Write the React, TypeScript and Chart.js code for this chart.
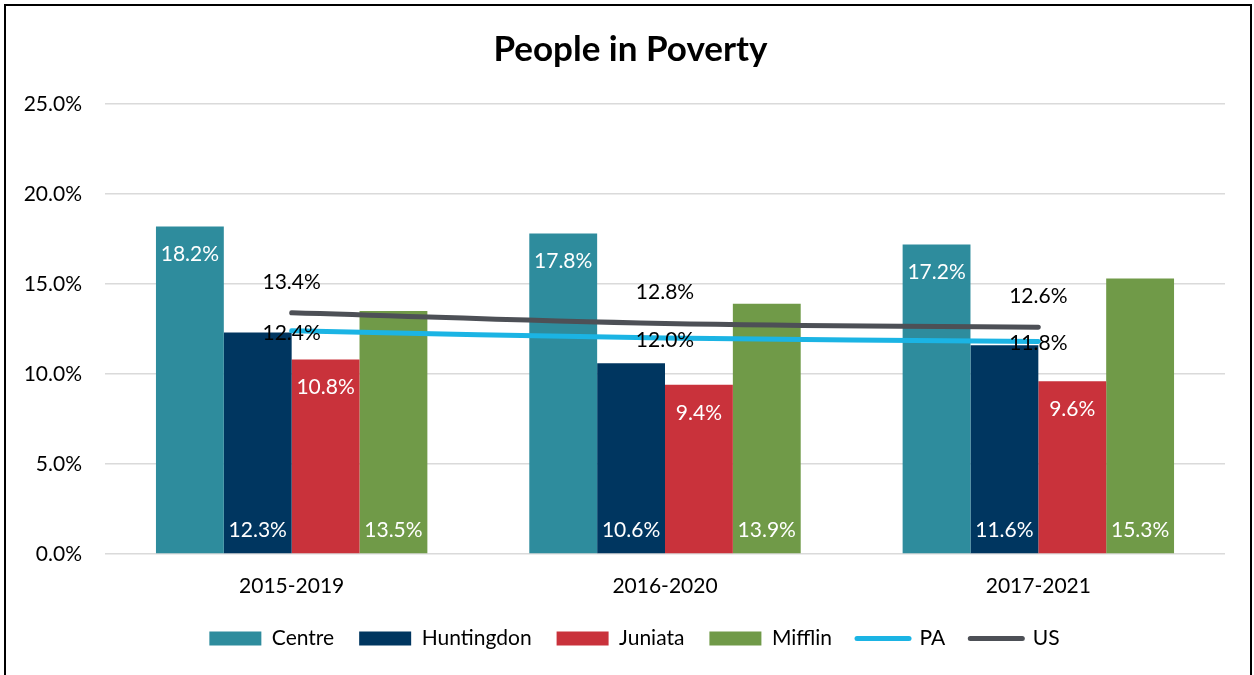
import React, { useEffect, useRef } from "react";
import { Chart, registerables } from "chart.js";

Chart.register(...registerables);

const categories = ["2015-2019", "2016-2020", "2017-2021"];
const centre = [18.2, 17.8, 17.2];
const huntingdon = [12.3, 10.6, 11.6];
const juniata = [10.8, 9.4, 9.6];
const mifflin = [13.5, 13.9, 15.3];
const pa = [12.4, 12.0, 11.8];
const us = [13.4, 12.8, 12.6];
const yTicks = [0, 5, 10, 15, 20, 25];

const FONT = "Lato, 'Open Sans', sans-serif";

const COLORS = {
  centre: "#2E8C9D",
  huntingdon: "#003660",
  juniata: "#C9323B",
  mifflin: "#709A48",
  pa: "#1BB4E4",
  us: "#4D5056",
};

// label placement per dataset index
const labelModes = ["top", "base", "top", "base", "center", "above"];

const labelPlugin = {
  id: "valueLabels",
  afterDatasetsDraw(chart: any) {
    const ctx = chart.ctx;
    ctx.save();
    ctx.font = `21px ${FONT}`;
    ctx.textAlign = "center";
    ctx.textBaseline = "middle";
    chart.data.datasets.forEach((ds: any, i: number) => {
      const meta = chart.getDatasetMeta(i);
      const mode = labelModes[i];
      meta.data.forEach((el: any, j: number) => {
        const v = ds.data[j];
        const p = el.getProps(["x", "y", "base"], true);
        const text = v.toFixed(1) + "%";
        let ty = p.y;
        if (mode === "top") {
          ctx.fillStyle = "#ffffff";
          ty = p.y + 28;
        } else if (mode === "base") {
          ctx.fillStyle = "#ffffff";
          ty = p.base - 23;
        } else if (mode === "above") {
          ctx.fillStyle = "#000000";
          ty = p.y - 31;
        } else {
          ctx.fillStyle = "#000000";
          ty = p.y + 2;
        }
        ctx.fillText(text, p.x, ty);
      });
    });
    ctx.restore();
  },
};

// centre title and legend on the whole frame rather than the chart box
const shiftPlugin = {
  id: "shiftBlocks",
  afterLayout(chart: any) {
    if (chart.legend) chart.legend.left += 44;
    if (chart.titleBlock) chart.titleBlock.left += 36;
  },
};

export default function App() {
  const ref = useRef<HTMLCanvasElement | null>(null);

  useEffect(() => {
    if (!ref.current) return;
    const barDs = (label: string, data: number[], color: string) => ({
      type: "bar" as const,
      label,
      data,
      backgroundColor: color,
      borderWidth: 0,
      order: 1,
      categoryPercentage: 0.727,
      barPercentage: 1.0,
    });
    const lineDs = (label: string, data: number[], color: string) => ({
      type: "line" as const,
      label,
      data,
      borderColor: color,
      backgroundColor: color,
      borderWidth: 5,
      borderCapStyle: "round" as const,
      pointRadius: 0,
      tension: 0.4,
      fill: false,
      order: 0,
    });
    const chart = new Chart(ref.current, {
      type: "bar",
      data: {
        labels: categories,
        datasets: [
          barDs("Centre", centre, COLORS.centre),
          barDs("Huntingdon", huntingdon, COLORS.huntingdon),
          barDs("Juniata", juniata, COLORS.juniata),
          barDs("Mifflin", mifflin, COLORS.mifflin),
          lineDs("PA", pa, COLORS.pa),
          lineDs("US", us, COLORS.us),
        ] as any,
      },
      options: {
        animation: false,
        responsive: false,
        devicePixelRatio: 1,
        layout: { padding: { top: 5, left: 0, right: 29, bottom: 16 } },
        plugins: {
          tooltip: { enabled: false },
          title: {
            display: true,
            text: "People in Poverty",
            color: "#000",
            font: { family: FONT, size: 35, weight: "bold" },
            padding: { top: 24, bottom: 33 },
          },
          legend: {
            position: "bottom",
            labels: {
              usePointStyle: true,
              pointStyleWidth: 52,
              boxHeight: 14,
              padding: 25,
              color: "#000",
              font: { family: FONT, size: 21 },
              generateLabels: (c: any) =>
                c.data.datasets.map((ds: any, i: number) => {
                  const isLine = ds.type === "line";
                  return {
                    text: ds.label,
                    fillStyle: ds.backgroundColor,
                    strokeStyle: isLine ? ds.borderColor : ds.backgroundColor,
                    lineWidth: isLine ? 5 : 0,
                    lineCap: "round",
                    pointStyle: isLine ? "line" : "rect",
                    hidden: false,
                    datasetIndex: i,
                    fontColor: "#000",
                  };
                }),
            },
          },
        },
        scales: {
          x: {
            grid: { display: false },
            border: { display: false },
            ticks: {
              color: "#000",
              font: { family: FONT, size: 21 },
              padding: 12,
            },
            afterFit: (s: any) => {
              s.height = 49;
            },
          },
          y: {
            min: 0,
            max: 25,
            afterBuildTicks: (s: any) => {
              s.ticks = yTicks.map((v) => ({ value: v }));
            },
            grid: { color: "#DADADA", lineWidth: 1.5, drawTicks: false },
            border: { display: false },
            ticks: {
              color: "#000",
              font: { family: FONT, size: 21 },
              padding: 23,
              callback: (v: any) => Number(v).toFixed(1) + "%",
            },
            afterFit: (s: any) => {
              s.width = 105;
            },
          },
        },
      },
      plugins: [labelPlugin, shiftPlugin],
    });
    return () => chart.destroy();
  }, []);

  return (
    <div
      style={{
        position: "absolute",
        left: 0,
        top: 0,
        width: 1254,
        height: 675,
        overflow: "hidden",
        background: "#fff",
      }}
    >
      <canvas
        ref={ref}
        width={1254}
        height={675}
        style={{ position: "absolute", left: 0, top: 0, width: 1254, height: 675 }}
      />
      <div
        style={{
          position: "absolute",
          left: 4,
          top: 4,
          width: 1244,
          height: 720,
          border: "2px solid #000",
          pointerEvents: "none",
        }}
      />
    </div>
  );
}
